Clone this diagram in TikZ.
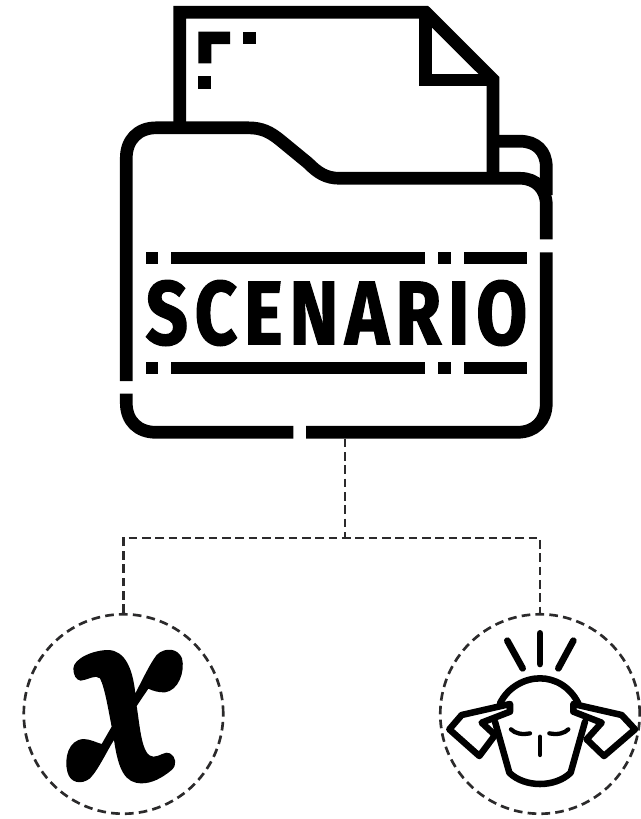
\documentclass[tikz,border=0pt]{standalone}
\usepackage{fontspec}
\setmainfont{Fira Sans}[UprightFont=* Bold]
\usepackage{graphicx}
\definecolor{dashink}{HTML}{2B2A2B}
\tikzset{
  x=0.75pt,y=-0.75pt,
  icon/.style={line width=9.5pt,line join=miter,draw=black},
  patch/.style={fill=black,draw=none},
  link/.style={line width=2pt,draw=dashink,dash pattern=on 6.5pt off 3.5pt},
  ring/.style={line width=2pt,draw=dashink,dash pattern=on 6.5pt off 3.9pt,circle,minimum size=149.6pt,inner sep=0pt},
  head/.style={line width=4.9pt,draw=black,line cap=round,line join=round},
}
\begin{document}
\begin{tikzpicture}
\useasboundingbox (0,0) rectangle (641,819);
% document
\draw[icon] (179.7,128) -- (179.7,12.2) -- (425.5,12.2) -- (493,79.5) -- (493,178);
\draw[icon] (425.5,12.2) -- (425.5,80) -- (493,80);
\fill[patch] (198.3,31.7) -| (230,44) -| (211.3,63.3) -| cycle;
\fill[patch] (243.3,31.7) rectangle (256,44);
\fill[patch] (198.3,76) rectangle (211,88.7);
% back tab
\draw[icon] (493,141.2) -- (520,141.2) .. controls (536,141.2) and (546.3,151) .. (546.3,167) -- (546.3,195);
% folder
\draw[icon] (126.3,381) -- (126.3,158) .. controls (126.3,140) and (138,127.8) .. (156,127.8)
  -- (248,127.8) .. controls (262,127.8) and (270,132) .. (280,140)
  -- (308,163) .. controls (318,173) and (326,178.3) .. (340,178.3)
  -- (520,178.3) .. controls (536,178.3) and (546.3,189) .. (546.3,205) -- (546.3,239.3);
\draw[icon] (546.3,252.3) -- (546.3,403) .. controls (546.3,421) and (535,432.3) .. (517,432.3) -- (306,432.3);
\draw[icon] (293.3,432.3) -- (156,432.3) .. controls (138,432.3) and (126.3,421) .. (126.3,403) -- (126.3,393.7);
% rules
\foreach \ya/\yb in {251.7/264.3,361.7/374.3}{
  \fill[patch] (145.7,\ya) rectangle (158.3,\yb);
  \fill[patch] (171.3,\ya) rectangle (425.3,\yb);
  \fill[patch] (438.3,\ya) rectangle (451,\yb);
  \fill[patch] (463.7,\ya) rectangle (527.3,\yb);
}
% word
\node[inner sep=0pt,anchor=center] (word) at (336.5,313) {\resizebox{286.2pt}{48pt}{\addfontfeature{LetterSpace=9,FakeBold=1.6}SCENARIO}};
% circles
\node[ring] (lc) at (123.5,714) {};
\node[ring] (rc) at (540,714) {};
\coordinate (drop) at (345,438.7);
\coordinate (mid) at (345,538);
\draw[link] (drop) -- (mid);
\draw[link] (lc.north) -- (lc.north |- mid) -- (rc.north |- mid) -- (rc.north);
% x glyph
\begin{scope}[shift={(10,600)},x=0.25pt,y=-0.25pt]
\fill[black] (190,205) .. controls (192,175) and (250,150) .. (295,150)
  .. controls (345,152) and (368,205) .. (376,280)
  .. controls (392,250) and (420,190) .. (440,165)
  .. controls (465,140) and (505,145) .. (516,175)
  .. controls (526,215) and (505,272) .. (465,277)
  .. controls (445,278) and (428,272) .. (415,266)
  -- (380,318)
  .. controls (390,380) and (395,470) .. (430,470)
  .. controls (450,470) and (465,452) .. (480,460)
  .. controls (498,470) and (502,495) .. (485,510)
  .. controls (455,535) and (425,550) .. (395,550)
  .. controls (345,550) and (325,510) .. (312,420)
  .. controls (295,445) and (265,510) .. (240,535)
  .. controls (215,555) and (180,550) .. (172,515)
  .. controls (162,475) and (175,420) .. (220,417)
  .. controls (240,417) and (260,428) .. (275,432)
  -- (305,380)
  .. controls (295,330) and (285,265) .. (270,235)
  .. controls (255,222) and (235,240) .. (212,242)
  .. controls (198,240) and (190,225) .. (190,205) -- cycle;
\end{scope}
% head
\begin{scope}[shift={(430,600)},x=0.25pt,y=-0.25pt,head]
\draw[line width=5pt] (232,122) -- (278,205);
\draw[line width=5pt] (330,100) -- (330,192);
\draw[line width=5pt] (430,122) -- (385,205);
\draw (210,310) .. controls (235,260) and (285,235) .. (330,235) .. controls (375,235) and (420,260) .. (445,310);
\draw (195,365) -- (238,518) .. controls (260,540) and (295,552) .. (330,552) .. controls (365,552) and (400,540) .. (422,518) -- (465,365);
\draw[line width=3.2pt] (243,388) .. controls (255,400) and (275,405) .. (300,400);
\draw[line width=3.2pt] (415,388) .. controls (403,400) and (383,405) .. (358,400);
\draw[line width=3.2pt] (330,410) -- (330,465);
\draw (240,312) -- (95,345) -- (58,388) -- (148,468) -- (195,405) -- (155,368) -- (240,335) -- cycle;
\draw (430,312) -- (575,345) -- (615,388) -- (522,468) -- (470,418) -- (515,368) -- (430,335) -- cycle;
\end{scope}
\end{tikzpicture}
\end{document}
